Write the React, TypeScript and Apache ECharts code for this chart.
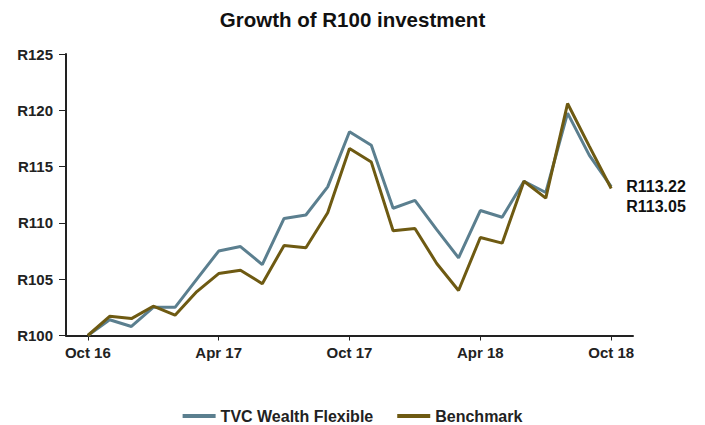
import React, { useEffect, useRef } from "react";
import * as echarts from "echarts";

const months = [
  "", "Oct 16", "Nov 16", "Dec 16", "Jan 17", "Feb 17", "Mar 17", "Apr 17", "May 17", "Jun 17",
  "Jul 17", "Aug 17", "Sep 17", "Oct 17", "Nov 17", "Dec 17", "Jan 18", "Feb 18", "Mar 18",
  "Apr 18", "May 18", "Jun 18", "Jul 18", "Aug 18", "Sep 18", "Oct 18", "",
];
const tickLabels = ["Oct 16", "Apr 17", "Oct 17", "Apr 18", "Oct 18"];

const tvc = [
  100, 101.4, 100.8, 102.5, 102.5, 105.0, 107.5, 107.9, 106.3, 110.4, 110.7, 113.2, 118.1,
  116.9, 111.3, 112.0, 109.4, 106.9, 111.1, 110.5, 113.7, 112.7, 119.75, 116.0, 113.22,
];
const bench = [
  100, 101.7, 101.5, 102.6, 101.8, 103.9, 105.5, 105.8, 104.6, 108.0, 107.8, 110.9, 116.6,
  115.4, 109.3, 109.5, 106.4, 104.0, 108.7, 108.2, 113.7, 112.2, 120.6, 116.8, 113.05,
];

const FONT = "'Liberation Sans', Arial, sans-serif";

export default function App() {
  const ref = useRef<HTMLDivElement>(null);
  useEffect(() => {
    document.body.style.margin = "0";
    if (!ref.current) return;
    const chart = echarts.init(ref.current, null, { renderer: "svg" });
    const showIdx = (i: number) => tickLabels.indexOf(months[i]) >= 0;
    const toPairs = (arr: number[]) => arr.map((v, i) => [i + 1, v]);
    chart.setOption({
      animation: false,
      backgroundColor: "#ffffff",
      textStyle: { fontFamily: FONT },
      title: {
        text: "Growth of R100 investment",
        left: "center",
        top: 4,
        textStyle: { fontSize: 20.5, fontWeight: "bold", color: "#111", fontFamily: FONT },
      },
      legend: {
        top: 403,
        left: "center",
        icon: "rect",
        itemWidth: 33,
        itemHeight: 4,
        itemGap: 24,
        textStyle: { fontSize: 16, fontWeight: "bold", color: "#222", fontFamily: FONT },
        data: ["TVC Wealth Flexible", "Benchmark"],
      },
      grid: { left: 66, right: 72, top: 54, bottom: 89.5 },
      xAxis: {
        type: "category",
        data: months,
        boundaryGap: false,
        axisLine: { lineStyle: { color: "#222", width: 2 } },
        axisTick: {
          interval: (i: number) => showIdx(i),
          length: 5,
          lineStyle: { color: "#222", width: 1 },
        },
        axisLabel: {
          interval: (i: number) => showIdx(i),
          margin: 9,
          fontSize: 15,
          fontWeight: "bold",
          color: "#222",
          fontFamily: FONT,
        },
        splitLine: { show: false },
      },
      yAxis: {
        type: "value",
        min: 100,
        max: 125,
        interval: 5,
        axisLine: { show: true, lineStyle: { color: "#222", width: 2 } },
        axisTick: { show: true, length: 7, lineStyle: { color: "#222", width: 1 } },
        axisLabel: {
          formatter: "R{value}",
          margin: 13,
          fontSize: 15,
          fontWeight: "bold",
          color: "#222",
          fontFamily: FONT,
        },
        splitLine: { show: false },
      },
      series: [
        {
          name: "TVC Wealth Flexible",
          type: "line",
          data: toPairs(tvc),
          symbol: "none",
          color: "#5b7f8f",
          lineStyle: { width: 3, color: "#5b7f8f" },
          endLabel: {
            show: true,
            distance: 15,
            offset: [0, 0],
            formatter: (p: any) => "R" + Number(p.value[1]).toFixed(2),
            fontSize: 16,
            fontWeight: "bold",
            color: "#111",
            fontFamily: FONT,
          },
        },
        {
          name: "Benchmark",
          type: "line",
          data: toPairs(bench),
          symbol: "none",
          color: "#6e5a12",
          lineStyle: { width: 3, color: "#6e5a12" },
          endLabel: {
            show: true,
            distance: 15,
            offset: [0, 18],
            formatter: (p: any) => "R" + Number(p.value[1]).toFixed(2),
            fontSize: 16,
            fontWeight: "bold",
            color: "#111",
            fontFamily: FONT,
          },
        },
      ],
    });
    return () => chart.dispose();
  }, []);
  return <div ref={ref} style={{ width: 705, height: 425 }} />;
}
